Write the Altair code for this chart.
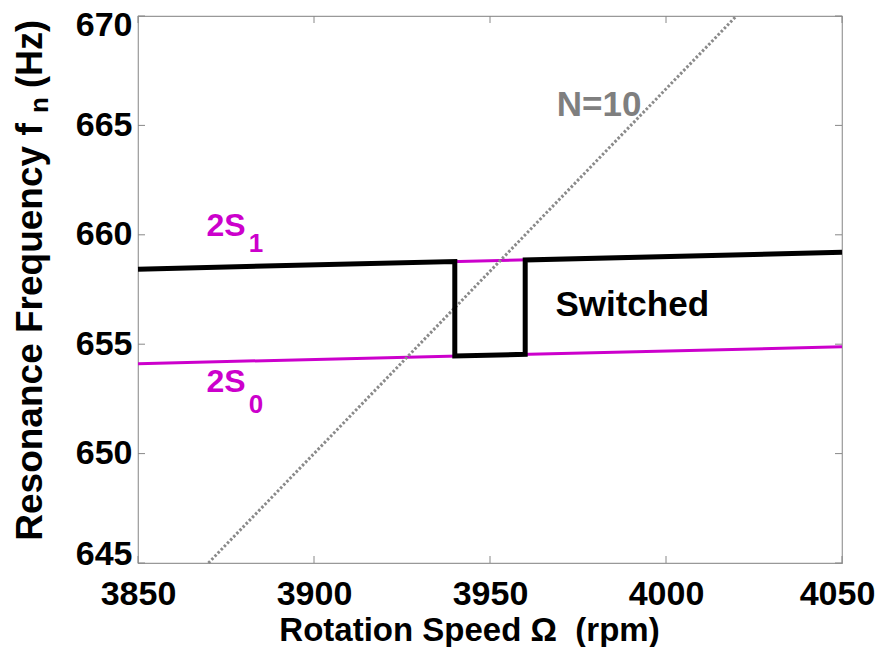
import altair as alt
import pandas as pd

# ---------------- data ----------------
omega_ends = [3850, 4050]
f_2s1_ends = [658.43, 659.20]
f_2s0_ends = [654.11, 654.88]

switch_omega = [3850, 3940, 3940, 3960, 3960, 4050]
switch_freq = [658.43, 658.78, 654.46, 654.54, 658.85, 659.20]

n10_omega = [3870, 4020]
n10_freq = [645, 670]

x_ticks = [3850, 3900, 3950, 4000, 4050]
y_ticks = [645, 650, 655, 660, 665, 670]

main_labels = ["2S", "2S"]
main_label_omega = [3875, 3875]
main_label_freq = [660.38, 653.25]
sub_labels = ["1", "0"]
sub_label_omega = [3883.5, 3883.5]
sub_label_freq = [659.58, 652.22]

n10_label = ["N=10"]
n10_label_omega = [3981]
n10_label_freq = [665.95]

switched_label = ["Switched"]
switched_label_omega = [3990.4]
switched_label_freq = [656.79]

# ---------------- style ----------------
FONT = "Liberation Sans"
MAGENTA = "#CC00CC"
GRAY = "#8a8a8a"
W, H = 704, 547

xscale = alt.Scale(domain=[3850, 4050], nice=False, zero=False)
yscale = alt.Scale(domain=[645, 670], nice=False, zero=False)

xaxis = alt.Axis(values=x_ticks, format="d", title="Rotation Speed \u03a9\u00a0 (rpm)",
                 ticks=False, domain=False, grid=False,
                 labelFont=FONT, labelFontSize=34, labelFontWeight="bold", labelColor="black",
                 labelPadding=14, labelFlush=False,
                 labelOffset={"condition": {"test": "datum.value == 4050", "value": -5}, "value": 0},
                 titleFont=FONT, titleFontSize=33, titleFontWeight="bold", titleColor="black",
                 titleX=331, titleY=77, titleBaseline="alphabetic", titleAlign="center")
yaxis = alt.Axis(values=y_ticks, format="d", title=None,
                 ticks=False, domain=False, grid=False,
                 labelFont=FONT, labelFontSize=34, labelFontWeight="bold", labelColor="black",
                 labelPadding=6, labelFlush=True, labelFlushOffset=8)


def X(field):
    return alt.X(f"{field}:Q", scale=xscale, axis=xaxis)


def Y(field):
    return alt.Y(f"{field}:Q", scale=yscale, axis=yaxis)


df_2s0 = pd.DataFrame({"omega": omega_ends, "f": f_2s0_ends})
df_2s1 = pd.DataFrame({"omega": omega_ends, "f": f_2s1_ends})
df_sw = pd.DataFrame({"omega": switch_omega, "f": switch_freq, "idx": list(range(len(switch_omega)))})
df_n10 = pd.DataFrame({"omega": n10_omega, "f": n10_freq})

line_2s0 = alt.Chart(df_2s0).mark_line(color=MAGENTA, strokeWidth=3).encode(x=X("omega"), y=Y("f"))
line_2s1 = alt.Chart(df_2s1).mark_line(color=MAGENTA, strokeWidth=3).encode(x=X("omega"), y=Y("f"))
line_n10 = alt.Chart(df_n10).mark_line(color=GRAY, strokeWidth=3, strokeDash=[2.5, 2]).encode(
    x=X("omega"), y=Y("f"))
line_sw = alt.Chart(df_sw).mark_line(color="black", strokeWidth=5, strokeJoin="miter").encode(
    x=X("omega"), y=Y("f"), order="idx:Q")

# inner ticks (MATLAB style)
df_xt = pd.DataFrame({"v": x_ticks})
df_yt = pd.DataFrame({"v": y_ticks})
TK = dict(color="#888888", strokeWidth=1)
xt_bottom = alt.Chart(df_xt).mark_rule(**TK).encode(x=X("v"), y=alt.value(H), y2=alt.value(H - 7))
xt_top = alt.Chart(df_xt).mark_rule(**TK).encode(x=X("v"), y=alt.value(0), y2=alt.value(7))
yt_left = alt.Chart(df_yt).mark_rule(**TK).encode(y=Y("v"), x=alt.value(0), x2=alt.value(7))
yt_right = alt.Chart(df_yt).mark_rule(**TK).encode(y=Y("v"), x=alt.value(W), x2=alt.value(W - 7))

# annotations
df_main = pd.DataFrame({"t": main_labels, "omega": main_label_omega, "f": main_label_freq})
df_sub = pd.DataFrame({"t": sub_labels, "omega": sub_label_omega, "f": sub_label_freq})
txt_main = alt.Chart(df_main).mark_text(font=FONT, fontSize=32, fontWeight="bold", color=MAGENTA,
                                        align="center", baseline="middle").encode(
    x=X("omega"), y=Y("f"), text="t:N")
txt_sub = alt.Chart(df_sub).mark_text(font=FONT, fontSize=26, fontWeight="bold", color=MAGENTA,
                                      align="center", baseline="middle").encode(
    x=X("omega"), y=Y("f"), text="t:N")
txt_n10 = alt.Chart(pd.DataFrame({"t": n10_label, "omega": n10_label_omega, "f": n10_label_freq})).mark_text(
    font=FONT, fontSize=35, fontWeight="bold", color="#7f7f7f", align="center", baseline="middle").encode(
    x=X("omega"), y=Y("f"), text="t:N")
txt_sw = alt.Chart(pd.DataFrame({"t": switched_label, "omega": switched_label_omega,
                                 "f": switched_label_freq})).mark_text(
    font=FONT, fontSize=35, fontWeight="bold", color="black", align="center", baseline="middle").encode(
    x=X("omega"), y=Y("f"), text="t:N")

# y-axis title with subscript
yt_main = alt.Chart(pd.DataFrame({"t": ["Resonance Frequency f"]})).mark_text(
    font=FONT, fontSize=37, fontWeight="bold", color="black", angle=270,
    align="center", baseline="alphabetic").encode(text="t:N", x=alt.value(-96), y=alt.value(316))
yt_sub = alt.Chart(pd.DataFrame({"t": ["n"]})).mark_text(
    font=FONT, fontSize=26, fontWeight="bold", color="black", angle=270,
    align="center", baseline="alphabetic").encode(text="t:N", x=alt.value(-90), y=alt.value(89))
yt_unit = alt.Chart(pd.DataFrame({"t": ["(Hz)"]})).mark_text(
    font=FONT, fontSize=36, fontWeight="bold", color="black", angle=270,
    align="left", baseline="alphabetic").encode(text="t:N", x=alt.value(-96), y=alt.value(72))

chart = alt.layer(
    line_2s0, line_2s1, line_n10, line_sw,
    xt_bottom, xt_top, yt_left, yt_right,
    txt_main, txt_sub, txt_n10, txt_sw,
    yt_main, yt_sub, yt_unit,
).properties(
    width=W, height=H,
    autosize=alt.AutoSizeParams(type="none"),
    padding={"left": 130, "top": 8, "right": 36, "bottom": 84},
    background="white",
).configure_view(
    stroke="#999999", strokeWidth=1.2
)

chart.save("out.html", embed_options={"renderer": "svg", "actions": False})
